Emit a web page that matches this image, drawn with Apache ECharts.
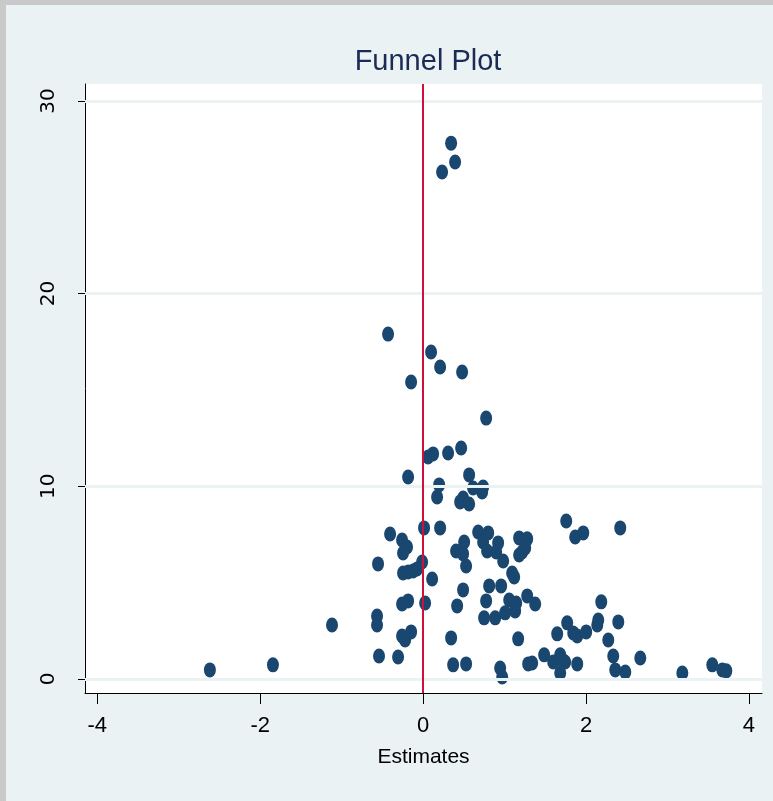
<!DOCTYPE html>
<html><head><meta charset="utf-8">
<script src="https://cdn.jsdelivr.net/npm/echarts@6/dist/echarts.min.js"></script>
<style>html,body{margin:0;padding:0;background:#EAF2F3}#c{width:773px;height:801px}</style>
</head><body><div id="c"></div>
<script>
// Funnel plot: estimate (x) vs precision (y)
const estimates = [
  0.344, 0.393, 0.233, -0.430, 0.098, 0.209, 0.479, -0.147, 0.774,
  0.467, 0.307, 0.123, 0.061, -0.184, 0.565, 0.197, 0.614, 0.737, 0.725,
  0.172, 0.455, 0.491, 0.565,
  -0.405, -0.258, -0.197, -0.246, -0.553, 0.012, 0.209, -0.012,
  -0.246, -0.184, -0.123, -0.074, 0.111, 0.405, 0.504, 0.491, 0.528, 0.491,
  0.676, 0.799, 0.737, 0.786, 0.921, 0.897, 0.983,
  1.179, 1.278, 1.253, 1.216, 1.179, 1.093, 1.118,
  0.811, 0.958, 0.774, 1.057, 1.143, 1.130, 1.278, 1.376, 1.007, 0.749, 0.885,
  1.757, 1.867, 1.966, 2.420,
  -0.258, -0.184, 0.025, -0.565, -0.565, -1.118, -0.258, -0.221, -0.147,
  -0.541, -0.307, -1.843, -2.617, 0.418, 0.344, 0.369, 0.528,
  2.187, 1.167, 1.646, 1.769, 1.843, 1.892, 2.002, 2.150, 2.138, 2.396, 2.273,
  1.486, 1.290, 1.339, 1.597, 1.683, 1.708, 1.744, 1.683, 1.892,
  2.334, 2.359, 2.482, 0.946, 0.971, 2.666, 3.182, 3.550, 3.673, 3.722
];
const precision = [
  27.81, 26.83, 26.31, 17.90, 16.97, 16.19, 15.93, 15.41, 13.54,
  11.99, 11.73, 11.68, 11.52, 10.48, 10.59, 10.07, 9.91, 9.96, 9.70,
  9.44, 9.19, 9.39, 9.08,
  7.52, 7.21, 6.85, 6.54, 5.97, 7.84, 7.84, 6.07,
  5.50, 5.55, 5.60, 5.71, 5.19, 6.64, 7.11, 6.49, 5.86, 4.62,
  7.63, 7.58, 7.11, 6.64, 7.06, 6.59, 6.12,
  7.32, 7.27, 6.80, 6.59, 6.43, 5.50, 5.29,
  4.83, 4.83, 4.05, 4.10, 3.94, 3.53, 4.31, 3.89, 3.43, 3.17, 3.17,
  8.20, 7.37, 7.58, 7.84,
  3.89, 4.05, 3.94, 3.27, 2.80, 2.80, 2.23, 2.02, 2.44,
  1.19, 1.14, 0.73, 0.47, 3.79, 2.13, 0.73, 0.78,
  4.00, 2.08, 2.34, 2.91, 2.39, 2.23, 2.44, 3.06, 2.80, 2.96, 2.02,
  1.25, 0.78, 0.83, 0.88, 1.25, 0.99, 0.88, 0.31, 0.78,
  1.19, 0.47, 0.36, 0.57, 0.10, 1.09, 0.31, 0.73, 0.47, 0.42
];
const xTicks = [-4, -2, 0, 2, 4];
const yTicks = [0, 10, 20, 30];
const refLine = 0;
const titleText = 'Funnel Plot';
const xName = 'Estimates';

const points = estimates.map((x, i) => [x, precision[i]]);
const narrow = '"Liberation Sans Narrow", "Arial Narrow", "Liberation Sans", sans-serif';

const chart = echarts.init(document.getElementById('c'));
chart.setOption({
  backgroundColor: '#EAF2F3',
  animation: false,
  graphic: [
    { type: 'rect', left: 0, top: 0, shape: { width: 773, height: 5 }, style: { fill: '#c9c9c9' }, z: 100 },
    { type: 'rect', left: 0, top: 0, shape: { width: 6, height: 801 }, style: { fill: '#c9c9c9' }, z: 100 }
  ],
  title: {
    text: titleText, left: 423, top: 42, textAlign: 'center',
    textStyle: { fontFamily: narrow, fontSize: 29, fontWeight: 'normal', color: '#1c2b55' }
  },
  grid: {
    left: 85, right: 11, top: 84, bottom: 108,
    show: true, backgroundColor: '#ffffff', borderWidth: 0
  },
  xAxis: {
    type: 'value', min: -4.15, max: 4.16,
    axisLine: { show: true, onZero: false, lineStyle: { color: '#000', width: 1 } },
    axisTick: { show: true, customValues: xTicks, length: 11, lineStyle: { color: '#000' } },
    axisLabel: { customValues: xTicks, fontFamily: narrow, fontSize: 22, color: '#000', margin: 22 },
    splitLine: { show: false },
    name: xName, nameLocation: 'middle', nameGap: 54,
    nameTextStyle: { fontFamily: narrow, fontSize: 21, color: '#000' }
  },
  yAxis: {
    type: 'value', min: -0.73, max: 30.88,
    axisLine: { show: true, onZero: false, lineStyle: { color: '#000', width: 1 } },
    axisTick: { show: true, customValues: yTicks, length: 7, lineStyle: { color: '#000' } },
    axisLabel: { customValues: yTicks, rotate: 90, fontFamily: '"DejaVu Sans", sans-serif', fontSize: 20, color: '#000', margin: 26 },
    splitLine: { show: false }
  },
  series: [
    {
      type: 'line', data: [], z: 1, silent: true,
      markLine: {
        silent: true, symbol: 'none', label: { show: false },
        lineStyle: { color: '#EAF2F3', width: 3, type: 'solid' },
        data: yTicks.map(v => ({ yAxis: v }))
      }
    },
    {
      type: 'scatter', data: points, z: 3,
      symbol: 'circle', symbolSize: [12, 15],
      itemStyle: { color: '#1a476f', opacity: 1 }
    },
    {
      type: 'line', data: [], z: 4, silent: true,
      markLine: {
        silent: true, symbol: 'none', label: { show: false },
        lineStyle: { color: '#d0103a', width: 2, type: 'solid' },
        data: [{ xAxis: refLine }]
      }
    }
  ]
});
</script></body></html>
